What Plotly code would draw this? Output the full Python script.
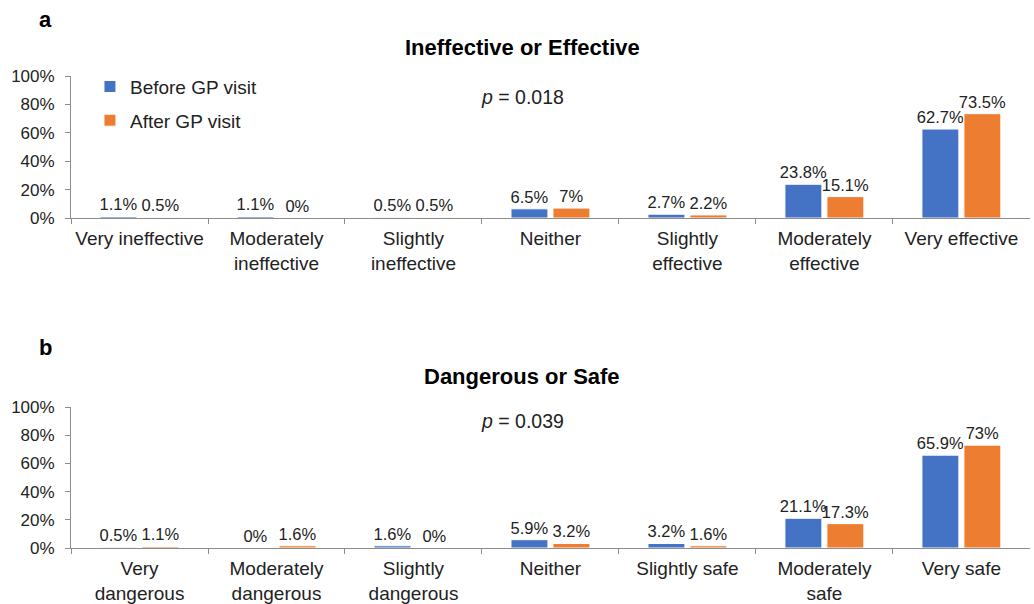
import plotly.graph_objects as go

cats_a = ["Very ineffective", "Moderately<br>ineffective", "Slightly<br>ineffective", "Neither",
          "Slightly<br>effective", "Moderately<br>effective", "Very effective"]
before_a = [1.1, 1.1, 0.5, 6.5, 2.7, 23.8, 62.7]
after_a = [0.5, 0, 0.5, 7, 2.2, 15.1, 73.5]

cats_b = ["Very<br>dangerous", "Moderately<br>dangerous", "Slightly<br>dangerous", "Neither",
          "Slightly safe", "Moderately<br>safe", "Very safe"]
before_b = [0.5, 0, 1.6, 5.9, 3.2, 21.1, 65.9]
after_b = [1.1, 1.6, 0, 3.2, 1.6, 17.3, 73]

ytick_vals = [0, 20, 40, 60, 80, 100]
ytick_text = ["0%", "20%", "40%", "60%", "80%", "100%"]

BLUE = "#4472C4"
ORANGE = "#ED7D31"
FONT = "Liberation Sans, Arial, sans-serif"

fig = go.Figure()

def add_bars(cats, vals, name, color, xa, ya, show):
    fig.add_trace(go.Bar(
        x=cats, y=vals, name=name, marker=dict(color=color, line=dict(color="white", width=1)),
        text=[f"{v:g}%" for v in vals], textposition="outside", cliponaxis=False,
        constraintext="none",
        textfont=dict(size=16.5, color="#222", family=FONT),
        xaxis=xa, yaxis=ya, showlegend=show, legendgroup=name,
    ))

add_bars(cats_a, before_a, "Before GP visit", BLUE, "x", "y", True)
add_bars(cats_a, after_a, "After GP visit", ORANGE, "x", "y", True)
add_bars(cats_b, before_b, "Before GP visit", BLUE, "x2", "y2", False)
add_bars(cats_b, after_b, "After GP visit", ORANGE, "x2", "y2", False)

xcommon = dict(showline=True, linecolor="#8c8c8c", linewidth=1, ticks="outside", tickson="boundaries",
               ticklen=5, tickcolor="#8c8c8c", tickfont=dict(size=19, color="#222", family=FONT),
               tickangle=0, ticklabelstandoff=3,
               domain=[0.0687, 0.996], showgrid=False, automargin=False)
ycommon = dict(range=[0, 100], tickmode="array", tickvals=ytick_vals, ticktext=ytick_text,
               showline=True, linecolor="#8c8c8c",
               linewidth=1, ticks="outside", ticklen=5, tickcolor="#8c8c8c", showgrid=False, zeroline=False,
               ticklabelstandoff=7,
               tickfont=dict(size=17, color="#222", family=FONT), automargin=False)

fig.update_layout(
    width=1034, height=604, margin=dict(l=0, r=0, t=0, b=0, autoexpand=False),
    paper_bgcolor="white", plot_bgcolor="white",
    font=dict(family=FONT, color="#222"),
    barmode="group", bargap=0.387, bargroupgap=0.12,
    xaxis=dict(anchor="y", **xcommon),
    xaxis2=dict(anchor="y2", **xcommon),
    yaxis=dict(anchor="x", domain=[0.639, 0.874], **ycommon),
    yaxis2=dict(anchor="x2", domain=[0.0927, 0.326], **ycommon),
    legend=dict(x=0.087, y=0.888, xanchor="left", yanchor="top", bgcolor="rgba(0,0,0,0)",
                font=dict(size=19, color="#222", family=FONT), traceorder="grouped",
                tracegroupgap=6, itemwidth=30),
    annotations=[
        dict(text="<b>a</b>", x=0.036, y=0.967, xref="paper", yref="paper", showarrow=False,
             yanchor="middle", font=dict(size=22, color="#000")),
        dict(text="<b>Ineffective or Effective</b>", x=0.505, y=0.921, xref="paper", yref="paper",
             showarrow=False, yanchor="middle", font=dict(size=22, color="#000")),
        dict(text="<i>p</i> = 0.018", x=0.505, y=0.839, xref="paper", yref="paper", showarrow=False,
             yanchor="middle", font=dict(size=19.5, color="#222")),
        dict(text="<b>b</b>", x=0.036, y=0.424, xref="paper", yref="paper", showarrow=False,
             yanchor="middle", font=dict(size=22, color="#000")),
        dict(text="<b>Dangerous or Safe</b>", x=0.505, y=0.377, xref="paper", yref="paper",
             showarrow=False, yanchor="middle", font=dict(size=22, color="#000")),
        dict(text="<i>p</i> = 0.039", x=0.505, y=0.303, xref="paper", yref="paper", showarrow=False,
             yanchor="middle", font=dict(size=19.5, color="#222")),
    ],
)

fig.write_html("out.html")
